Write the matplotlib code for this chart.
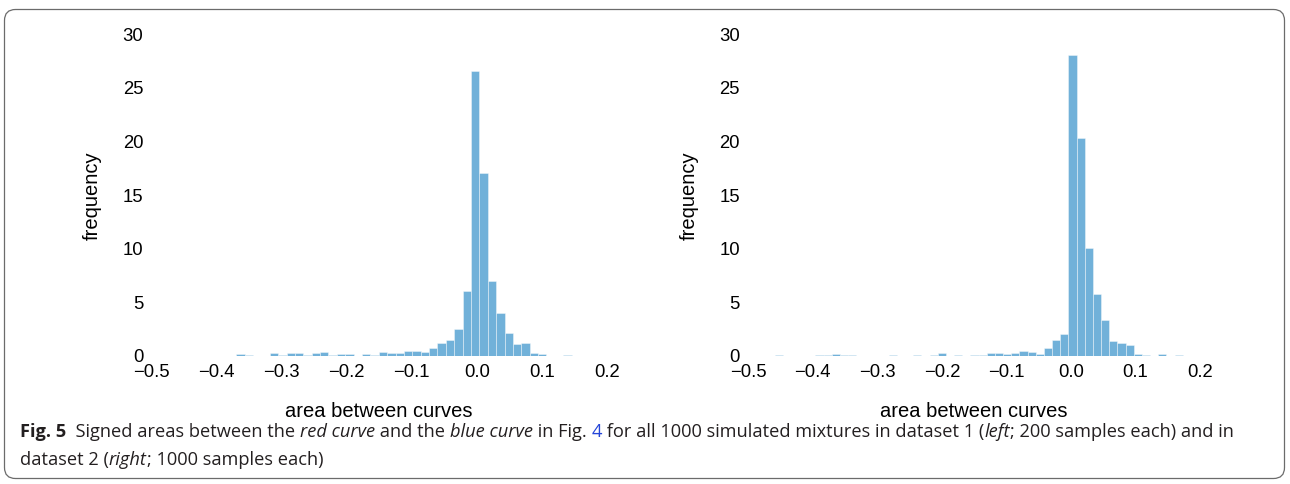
import numpy as np
import matplotlib
matplotlib.use("Agg")
import matplotlib.pyplot as plt
from matplotlib.patches import FancyBboxPatch
from matplotlib.transforms import IdentityTransform

# ---------------- data ----------------
x_ticks = [-0.5, -0.4, -0.3, -0.2, -0.1, 0.0, 0.1, 0.2]
y_ticks = [0, 5, 10, 15, 20, 25, 30]

# dataset 1 (left): normalised histogram, 40 bins
left_bin_start = -0.370
left_bin_width = 0.0129
left_density = [0.16, 0.08, 0.0, 0.0, 0.28, 0.08, 0.28, 0.28, 0.08, 0.28,
                0.37, 0.08, 0.16, 0.16, 0.0, 0.16, 0.08, 0.37, 0.28, 0.28,
                0.47, 0.47, 0.37, 0.75, 1.21, 1.46, 2.52, 6.1, 26.6, 17.1,
                7.0, 3.98, 2.15, 1.09, 1.21, 0.28, 0.19, 0.0, 0.0, 0.08]

# dataset 2 (right): normalised histogram, 50 bins
right_bin_start = -0.4593
right_bin_width = 0.01265
right_density = [0.08, 0.0, 0.0, 0.0, 0.0, 0.08, 0.08, 0.16, 0.08, 0.08,
                 0.0, 0.0, 0.0, 0.0, 0.08, 0.0, 0.0, 0.08, 0.0, 0.08,
                 0.24, 0.0, 0.08, 0.0, 0.08, 0.08, 0.32, 0.32, 0.16, 0.32,
                 0.47, 0.34, 0.19, 0.72, 1.49, 2.08, 28.05, 20.3, 10.1, 5.8,
                 3.33, 1.40, 1.21, 1.03, 0.19, 0.09, 0.0, 0.19, 0.0, 0.09]

x_label = "area between curves"
y_label = "frequency"

caption_line1 = [("Fig. 5", "bold"), ("  Signed areas between the ", "normal"),
                 ("red curve", "italic"), (" and the ", "normal"),
                 ("blue curve", "italic"), (" in Fig. ", "normal"), ("4", "link"),
                 (" for all 1000 simulated mixtures in dataset 1 (", "normal"),
                 ("left", "italic"), ("; 200 samples each) and in", "normal")]
caption_line2 = [("dataset 2 (", "normal"), ("right", "italic"),
                 ("; 1000 samples each)", "normal")]

# ---------------- figure ----------------
W, H = 1290, 484
fig = plt.figure(figsize=(W / 100, H / 100), dpi=100)
fig.patch.set_facecolor("white")

bar_color = "#71b1d9"
tick_font = "Liberation Sans"

def px_axes(x0, x1, ytop, ybot):
    return [x0 / W, 1 - ybot / H, (x1 - x0) / W, (ybot - ytop) / H]

ax_l = fig.add_axes(px_axes(151.7, 606.7, 34.4, 356.0))
ax_r = fig.add_axes(px_axes(748.3, 1200.0, 34.4, 356.0))

for ax, start, width, dens in [(ax_l, left_bin_start, left_bin_width, left_density),
                               (ax_r, right_bin_start, right_bin_width, right_density)]:
    dens = np.asarray(dens)
    edges = start + width * np.arange(len(dens))
    # filled bars, with a minimum visible height for the tiny single-count bins
    ax.bar(edges, dens, width=width, align="edge", color=bar_color,
           edgecolor=(1, 1, 1, 0.55), linewidth=0.5)
    ax.set_xlim(-0.5, 0.2)
    ax.set_ylim(0, 30)
    ax.set_xticks(x_ticks)
    ax.set_yticks(y_ticks)
    ax.set_xticklabels([f"{t:.1f}".replace("-", "\u2212") for t in x_ticks],
                       fontfamily=tick_font, fontsize=13.3)
    ax.set_yticklabels([str(t) for t in y_ticks], fontfamily=tick_font, fontsize=13.3)
    ax.tick_params(length=0, pad=6)
    for s in ax.spines.values():
        s.set_visible(False)
    ax.set_xlabel(x_label, fontfamily=tick_font, fontsize=14.5, labelpad=15)
    ax.set_ylabel(y_label, fontfamily=tick_font, fontsize=14.5, labelpad=15)

# ---------------- border ----------------
border = FancyBboxPatch((4.5, H - 478.5), 1280, 469,
                        boxstyle="round,pad=0,rounding_size=11",
                        transform=IdentityTransform(), facecolor="none",
                        edgecolor="#6b6b6b", linewidth=0.9)
fig.add_artist(border)

# ---------------- caption ----------------
fig.canvas.draw()
renderer = fig.canvas.get_renderer()
cap_family = "Open Sans"
cap_color = "#231f20"
link_color = "#2546d8"

def style_kw(style, size):
    kw = dict(fontsize=size, fontfamily=cap_family, color=cap_color)
    if style == "bold":
        kw["fontweight"] = "bold"
    elif style == "italic":
        kw["fontstyle"] = "italic"
    elif style == "link":
        kw["color"] = link_color
    return kw

def text_width(s, style, size):
    kw = style_kw(style, size)
    t1 = fig.text(0, 0, "|" + s + "|", transform=IdentityTransform(), **kw)
    t2 = fig.text(0, 0, "||", transform=IdentityTransform(), **kw)
    w = t1.get_window_extent(renderer).width - t2.get_window_extent(renderer).width
    t1.remove(); t2.remove()
    return w

def line_width(runs, size):
    return sum(text_width(s, st, size) for s, st in runs)

target = 1218.0
size0 = 10.0
cap_size = size0 * target / line_width(caption_line1, size0)

def draw_line(runs, x, y_top, size):
    for s, st in runs:
        fig.text(x, H - y_top, s, transform=IdentityTransform(), va="baseline",
                 ha="left", **style_kw(st, size))
        x += text_width(s, st, size)

draw_line(caption_line1, 20, 437, cap_size)
draw_line(caption_line2, 20, 465, cap_size)

fig.savefig("out.png", dpi=100, facecolor="white")
